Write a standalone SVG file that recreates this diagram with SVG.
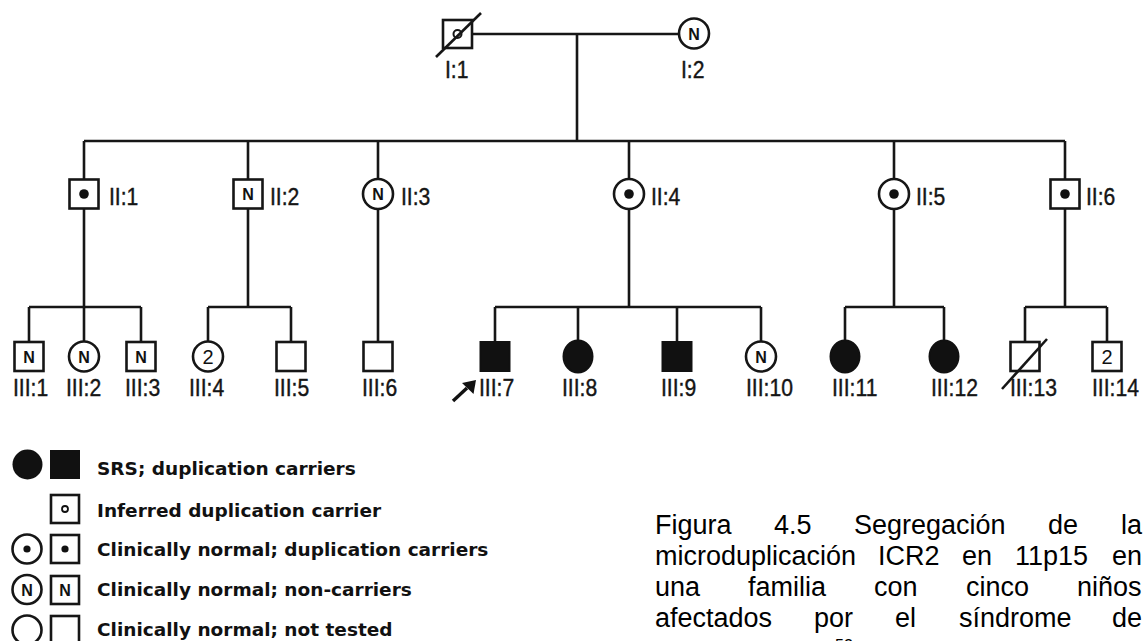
<svg xmlns="http://www.w3.org/2000/svg" width="1148" height="641" viewBox="0 0 1148 641">
  <style>
    .ln { fill: none; stroke: #161616; stroke-width: 2.6; }
    .sym { fill: #fff; stroke: #161616; stroke-width: 2.6; }
    .aff { fill: #111; stroke: #111; stroke-width: 2; }
    .dot { fill: #111; }
    .lbl { font-family: "Liberation Sans", Arial, sans-serif; font-size: 23px; fill: #151515; stroke: #151515; stroke-width: 0.4; }
    .n { font-family: "Liberation Sans", Arial, sans-serif; font-weight: bold; font-size: 16px; fill: #111; text-anchor: middle; }
    .num { font-family: "Liberation Sans", Arial, sans-serif; font-size: 20px; fill: #111; text-anchor: middle; }
    .key { font-family: "DejaVu Sans", Verdana, sans-serif; font-weight: bold; font-size: 18.5px; fill: #111; }
    .cap { font-family: "Liberation Sans", Arial, sans-serif; font-size: 27px; fill: #000; }
  </style>

  <rect width="1148" height="641" fill="#fff"/>

  <!-- lines of descent -->
  <g id="connectors" class="ln">
    <path d="M472 34 H680"/>
    <path d="M577 34 V141"/>
    <path d="M84 141 H1065"/>
    <path d="M84 141 V179.5 M248 141 V179.5 M378 141 V179 M629 141 V179 M894 141 V179 M1065 141 V179.5"/>
    <path d="M84 208.5 V307 M248 208.5 V307 M378 209 V342 M629 209 V307 M894 209 V307 M1065 208.5 V307"/>
    <path d="M29 307 H141 M208 307 H291 M495 307 H761 M845 307 H944 M1025 307 H1107"/>
    <path d="M29 307 V342 M84 307 V341.5 M141 307 V342 M208 307 V341.5 M291 307 V342 M495 307 V342 M578 307 V340.5 M677 307 V342 M761 307 V341.5 M845 307 V340.5 M944 307 V340.5 M1025 307 V342 M1107 307 V342"/>
  </g>

  <!-- generation I -->
  <g id="I-1">
    <rect class="sym" x="443" y="20" width="29" height="28"/>
    <circle cx="457.5" cy="34" r="4" fill="#fff" stroke="#161616" stroke-width="2"/>
    <line class="ln" x1="436" y1="57" x2="481" y2="13"/>
    <text class="lbl" transform="translate(445,78) scale(0.92,1)">I:1</text>
  </g>
  <g id="I-2">
    <circle class="sym" cx="694" cy="33.5" r="15"/>
    <text class="n" x="694" y="39.5">N</text>
    <text class="lbl" transform="translate(681,78) scale(0.92,1)">I:2</text>
  </g>

  <!-- generation II -->
  <g id="II-1">
    <rect class="sym" x="69.5" y="179.5" width="29" height="29"/>
    <circle class="dot" cx="84" cy="194" r="4.8"/>
    <text class="lbl" transform="translate(109,205) scale(0.92,1)">II:1</text>
  </g>
  <g id="II-2">
    <rect class="sym" x="233.5" y="179.5" width="29" height="29"/>
    <text class="n" x="248" y="200">N</text>
    <text class="lbl" transform="translate(270,205) scale(0.92,1)">II:2</text>
  </g>
  <g id="II-3">
    <circle class="sym" cx="378" cy="194" r="15"/>
    <text class="n" x="378" y="200">N</text>
    <text class="lbl" transform="translate(401,205) scale(0.92,1)">II:3</text>
  </g>
  <g id="II-4">
    <circle class="sym" cx="629" cy="194" r="15"/>
    <circle class="dot" cx="629" cy="194" r="4.8"/>
    <text class="lbl" transform="translate(651,205) scale(0.92,1)">II:4</text>
  </g>
  <g id="II-5">
    <circle class="sym" cx="894" cy="194" r="15"/>
    <circle class="dot" cx="894" cy="194" r="4.8"/>
    <text class="lbl" transform="translate(916,205) scale(0.92,1)">II:5</text>
  </g>
  <g id="II-6">
    <rect class="sym" x="1050.5" y="179.5" width="29" height="29"/>
    <circle class="dot" cx="1065" cy="194" r="4.8"/>
    <text class="lbl" transform="translate(1086,205) scale(0.92,1)">II:6</text>
  </g>

  <!-- generation III -->
  <g id="III-1">
    <rect class="sym" x="14.5" y="342" width="29" height="29"/>
    <text class="n" x="29" y="362.5">N</text>
    <text class="lbl" transform="translate(13,396) scale(0.92,1)">III:1</text>
  </g>
  <g id="III-2">
    <circle class="sym" cx="84" cy="356.5" r="15"/>
    <text class="n" x="84" y="362.5">N</text>
    <text class="lbl" transform="translate(66,396) scale(0.92,1)">III:2</text>
  </g>
  <g id="III-3">
    <rect class="sym" x="126.5" y="342" width="29" height="29"/>
    <text class="n" x="141" y="362.5">N</text>
    <text class="lbl" transform="translate(125,396) scale(0.92,1)">III:3</text>
  </g>
  <g id="III-4">
    <circle class="sym" cx="208" cy="356.5" r="15"/>
    <text class="num" x="208" y="363.5">2</text>
    <text class="lbl" transform="translate(189,396) scale(0.92,1)">III:4</text>
  </g>
  <g id="III-5">
    <rect class="sym" x="276.5" y="342" width="29" height="29"/>
    <text class="lbl" transform="translate(274,396) scale(0.92,1)">III:5</text>
  </g>
  <g id="III-6">
    <rect class="sym" x="363.5" y="342" width="29" height="29"/>
    <text class="lbl" transform="translate(362,396) scale(0.92,1)">III:6</text>
  </g>
  <g id="III-7">
    <rect class="aff" x="480.5" y="342" width="29" height="29"/>
    <line x1="453" y1="401" x2="467" y2="388" stroke="#111" stroke-width="3.4"/>
    <polygon points="476,380 473.5,394 462,383" fill="#111"/>
    <text class="lbl" transform="translate(479,396) scale(0.92,1)">III:7</text>
  </g>
  <g id="III-8">
    <ellipse class="aff" cx="578" cy="356.5" rx="14.5" ry="16"/>
    <text class="lbl" transform="translate(562,396) scale(0.92,1)">III:8</text>
  </g>
  <g id="III-9">
    <rect class="aff" x="662.5" y="342" width="29" height="29"/>
    <text class="lbl" transform="translate(661,396) scale(0.92,1)">III:9</text>
  </g>
  <g id="III-10">
    <circle class="sym" cx="761" cy="356.5" r="15"/>
    <text class="n" x="761" y="362.5">N</text>
    <text class="lbl" transform="translate(746,396) scale(0.92,1)">III:10</text>
  </g>
  <g id="III-11">
    <ellipse class="aff" cx="845" cy="356.5" rx="14.5" ry="16"/>
    <text class="lbl" transform="translate(832,396) scale(0.92,1)">III:11</text>
  </g>
  <g id="III-12">
    <ellipse class="aff" cx="944" cy="356.5" rx="14.5" ry="16"/>
    <text class="lbl" transform="translate(931,396) scale(0.92,1)">III:12</text>
  </g>
  <g id="III-13">
    <rect class="sym" x="1010.5" y="342" width="29" height="29"/>
    <line class="ln" x1="1002" y1="389" x2="1047" y2="339"/>
    <text class="lbl" transform="translate(1010,396) scale(0.92,1)">III:13</text>
  </g>
  <g id="III-14">
    <rect class="sym" x="1092.5" y="342" width="29" height="29"/>
    <text class="num" x="1107" y="363.5">2</text>
    <text class="lbl" transform="translate(1092,396) scale(0.92,1)">III:14</text>
  </g>

  <!-- key -->
  <g id="legend">
    <circle class="dot" cx="27.5" cy="464.5" r="15"/>
    <rect class="dot" x="50" y="450" width="30" height="29"/>
    <text class="key" x="97" y="475">SRS; duplication carriers</text>

    <rect class="sym" x="51" y="495" width="28" height="28" stroke-width="2"/>
    <circle cx="65" cy="509" r="3" fill="#fff" stroke="#111" stroke-width="1.8"/>
    <text class="key" x="97" y="517">Inferred duplication carrier</text>

    <circle class="sym" cx="27" cy="549" r="14.5" stroke-width="2"/>
    <circle class="dot" cx="27" cy="549" r="3.6"/>
    <rect class="sym" x="51" y="535" width="28" height="28" stroke-width="2"/>
    <circle class="dot" cx="65" cy="549" r="3.6"/>
    <text class="key" x="97" y="556">Clinically normal; duplication carriers</text>

    <circle class="sym" cx="27" cy="589.5" r="14.5" stroke-width="2"/>
    <text class="n" x="27" y="595.5">N</text>
    <rect class="sym" x="51" y="576" width="28" height="28" stroke-width="2"/>
    <text class="n" x="65" y="596">N</text>
    <text class="key" x="97" y="596">Clinically normal; non-carriers</text>

    <circle class="sym" cx="27" cy="630" r="14.5" stroke-width="2"/>
    <rect class="sym" x="51" y="616" width="28" height="28" stroke-width="2"/>
    <text class="key" x="97" y="636">Clinically normal; not tested</text>
  </g>

  <!-- figure caption, justified -->
  <g id="caption" class="cap">
    <text y="534"><tspan x="655">Figura</tspan><tspan x="774">4.5</tspan><tspan x="854">Segregación</tspan><tspan x="1048">de</tspan><tspan x="1121">la</tspan></text>
    <text y="565"><tspan x="655">microduplicación</tspan><tspan x="878">ICR2</tspan><tspan x="962">en</tspan><tspan x="1015">11p15</tspan><tspan x="1112">en</tspan></text>
    <text y="596"><tspan x="655">una</tspan><tspan x="748">familia</tspan><tspan x="874">con</tspan><tspan x="966">cinco</tspan><tspan x="1077">niños</tspan></text>
    <text y="627"><tspan x="655">afectados</tspan><tspan x="814">por</tspan><tspan x="895">el</tspan><tspan x="959">síndrome</tspan><tspan x="1112">de</tspan></text>
    <text x="835" y="651" font-size="16">52</text>
  </g>
</svg>
